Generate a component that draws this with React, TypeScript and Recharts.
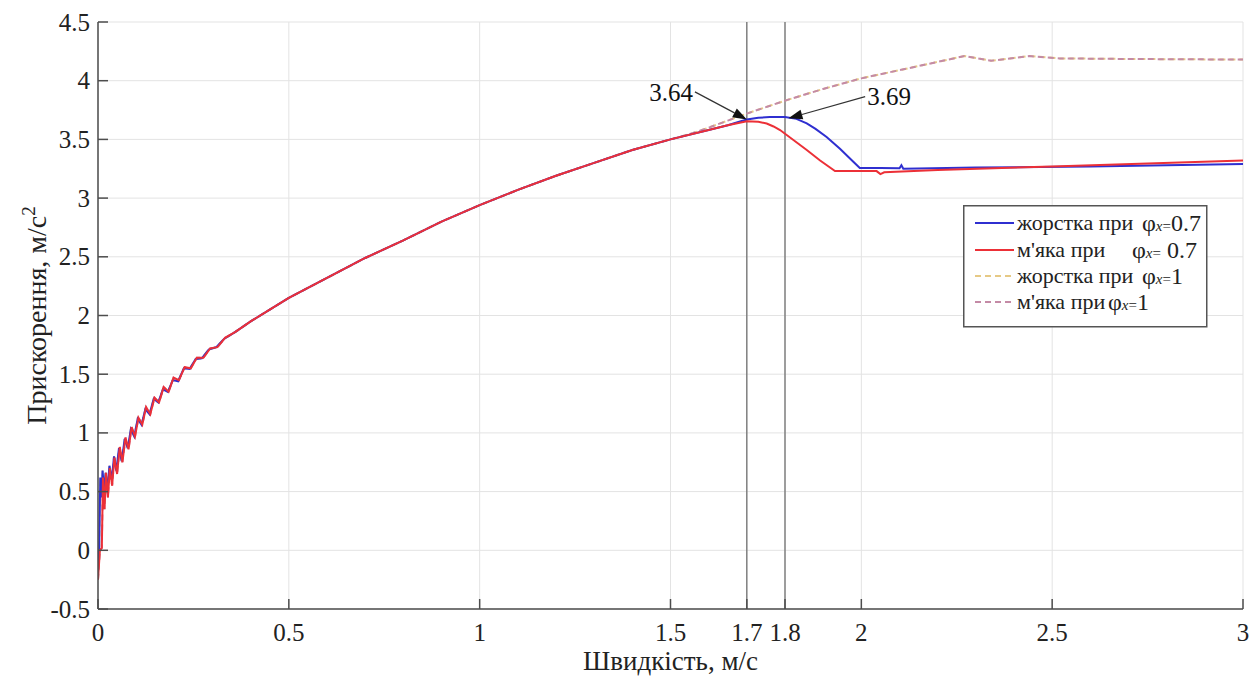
import {
  LineChart,
  Line,
  XAxis,
  YAxis,
  CartesianGrid,
  ReferenceLine,
  Legend,
} from "recharts";

// speed (m/s) -> acceleration (m/s^2)
const hard07: [number, number][] = [
  [0, -0.18], [0.003, 0.0], [0.006, 0.62], [0.009, 0.45], [0.012, 0.68], [0.016, 0.5],
  [0.02, 0.66], [0.025, 0.52], [0.03, 0.72], [0.036, 0.6], [0.042, 0.8], [0.048, 0.68],
  [0.055, 0.87], [0.062, 0.76], [0.07, 0.95], [0.078, 0.87], [0.086, 1.03], [0.095, 0.97],
  [0.104, 1.12], [0.114, 1.07], [0.124, 1.2], [0.135, 1.16], [0.146, 1.29], [0.158, 1.26],
  [0.17, 1.37], [0.183, 1.35], [0.196, 1.45], [0.21, 1.44], [0.225, 1.55], [0.24, 1.545],
  [0.256, 1.63], [0.272, 1.635], [0.29, 1.71], [0.31, 1.73], [0.33, 1.8], [0.36, 1.86],
  [0.4, 1.95], [0.45, 2.05], [0.5, 2.15], [0.6, 2.32], [0.7, 2.49], [0.8, 2.64], [0.9, 2.8],
  [1.0, 2.94], [1.1, 3.07], [1.2, 3.19], [1.3, 3.3], [1.4, 3.41], [1.5, 3.5], [1.6, 3.58],
  [1.65, 3.62], [1.68, 3.65], [1.7, 3.67], [1.73, 3.685], [1.76, 3.69], [1.8, 3.69],
  [1.83, 3.675], [1.857, 3.637], [1.88, 3.59], [1.909, 3.52], [1.944, 3.42], [1.979, 3.31],
  [1.996, 3.256], [2.05, 3.256], [2.1, 3.254], [2.105, 3.28], [2.11, 3.25], [2.3, 3.26],
  [2.6, 3.27], [3.0, 3.29],
];

const soft07: [number, number][] = [
  [0, -0.25], [0.005, 0.0], [0.01, 0.02], [0.013, 0.62], [0.017, 0.35], [0.021, 0.66],
  [0.026, 0.45], [0.031, 0.7], [0.037, 0.55], [0.043, 0.79], [0.05, 0.65], [0.057, 0.88],
  [0.064, 0.75], [0.072, 0.96], [0.08, 0.86], [0.088, 1.05], [0.097, 0.97], [0.106, 1.13],
  [0.116, 1.07], [0.126, 1.22], [0.137, 1.16], [0.148, 1.3], [0.16, 1.26], [0.172, 1.39],
  [0.185, 1.35], [0.198, 1.47], [0.212, 1.45], [0.227, 1.56], [0.243, 1.55], [0.259, 1.64],
  [0.276, 1.64], [0.294, 1.72], [0.313, 1.73], [0.333, 1.81], [0.36, 1.86], [0.4, 1.95],
  [0.45, 2.05], [0.5, 2.15], [0.6, 2.32], [0.7, 2.49], [0.8, 2.64], [0.9, 2.8], [1.0, 2.94],
  [1.1, 3.07], [1.2, 3.19], [1.3, 3.3], [1.4, 3.41], [1.5, 3.5], [1.6, 3.58], [1.65, 3.62],
  [1.7, 3.655], [1.73, 3.65], [1.752, 3.635], [1.77, 3.61], [1.787, 3.58], [1.822, 3.495],
  [1.857, 3.41], [1.892, 3.32], [1.931, 3.23], [2.04, 3.23], [2.05, 3.205], [2.06, 3.22],
  [2.2, 3.24], [2.5, 3.27], [3.0, 3.32],
];

// φx = 1 curves coincide with the φx = 0.7 ones until they part near 1.55 m/s
const hard1: [number, number][] = [
  [0, -0.18], [0.003, 0.0], [0.006, 0.62], [0.009, 0.45], [0.012, 0.68], [0.016, 0.5],
  [0.02, 0.66], [0.025, 0.52], [0.03, 0.72], [0.036, 0.6], [0.042, 0.8], [0.048, 0.68],
  [0.055, 0.87], [0.062, 0.76], [0.07, 0.95], [0.078, 0.87], [0.086, 1.03], [0.095, 0.97],
  [0.104, 1.12], [0.114, 1.07], [0.124, 1.2], [0.135, 1.16], [0.146, 1.29], [0.158, 1.26],
  [0.17, 1.37], [0.183, 1.35], [0.196, 1.45], [0.21, 1.44], [0.225, 1.55], [0.24, 1.545],
  [0.256, 1.63], [0.272, 1.635], [0.29, 1.71], [0.31, 1.73], [0.33, 1.8], [0.36, 1.86],
  [0.4, 1.95], [0.45, 2.05], [0.5, 2.15], [0.6, 2.32], [0.7, 2.49], [0.8, 2.64], [0.9, 2.8],
  [1.0, 2.94], [1.1, 3.07], [1.2, 3.19], [1.3, 3.3], [1.4, 3.41], [1.5, 3.5], [1.55, 3.545],
  [1.6, 3.6], [1.65, 3.66], [1.7, 3.72], [1.8, 3.83], [1.9, 3.93], [2.0, 4.02], [2.1, 4.09],
  [2.2, 4.16], [2.27, 4.21], [2.34, 4.17], [2.44, 4.21], [2.52, 4.19], [2.7, 4.185],
  [3.0, 4.18],
];

const soft1: [number, number][] = [
  [0, -0.25], [0.005, 0.0], [0.01, 0.02], [0.013, 0.62], [0.017, 0.35], [0.021, 0.66],
  [0.026, 0.45], [0.031, 0.7], [0.037, 0.55], [0.043, 0.79], [0.05, 0.65], [0.057, 0.88],
  [0.064, 0.75], [0.072, 0.96], [0.08, 0.86], [0.088, 1.05], [0.097, 0.97], [0.106, 1.13],
  [0.116, 1.07], [0.126, 1.22], [0.137, 1.16], [0.148, 1.3], [0.16, 1.26], [0.172, 1.39],
  [0.185, 1.35], [0.198, 1.47], [0.212, 1.45], [0.227, 1.56], [0.243, 1.55], [0.259, 1.64],
  [0.276, 1.64], [0.294, 1.72], [0.313, 1.73], [0.333, 1.81], [0.36, 1.86], [0.4, 1.95],
  [0.45, 2.05], [0.5, 2.15], [0.6, 2.32], [0.7, 2.49], [0.8, 2.64], [0.9, 2.8], [1.0, 2.94],
  [1.1, 3.07], [1.2, 3.19], [1.3, 3.3], [1.4, 3.41], [1.5, 3.5], [1.55, 3.545], [1.6, 3.6],
  [1.65, 3.66], [1.7, 3.72], [1.8, 3.83], [1.9, 3.93], [2.0, 4.02], [2.1, 4.09], [2.2, 4.16],
  [2.27, 4.21], [2.34, 4.17], [2.44, 4.21], [2.52, 4.19], [2.7, 4.185], [3.0, 4.18],
];

const xTicks = [0, 0.5, 1, 1.5, 1.7, 1.8, 2, 2.5, 3];
const yTicks = [-0.5, 0, 0.5, 1, 1.5, 2, 2.5, 3, 3.5, 4, 4.5];
const markerSpeeds = [1.7, 1.8];

// annotation arrows: tail point, head point, label
const peakNotes: { from: [number, number]; to: [number, number]; text: string }[] = [
  { from: [1.564, 3.905], to: [1.7, 3.67], text: "3.64" },
  { from: [2.01, 3.865], to: [1.809, 3.68], text: "3.69" },
];

const legendRows = [
  { name: "жорстка при", phi: "0.7" },
  { name: "м'яка при", phi: " 0.7" },
  { name: "жорстка при", phi: "1" },
  { name: "м'яка при", phi: "1" },
];

const FONT = "'Liberation Serif', 'Times New Roman', serif";
const BLUE = "#2f2fd0";
const RED = "#ec3037";
const YELLOW = "#e6c985";
const PURPLE = "#c48aa6";
const AXIS = "#4d4d4d";
const serif = { fontFamily: FONT };

const rows = (pts: [number, number][]) => pts.map(([x, y]) => ({ x, y }));

function XTick({ x, y, payload }: any) {
  return (
    <g>
      <line x1={x} x2={x} y1={y} y2={y - 10} stroke={AXIS} strokeWidth={1.5} />
      <text x={x} y={y + 32} textAnchor="middle" fontSize={25} fill="#222" style={serif}>
        {payload.value}
      </text>
    </g>
  );
}

function YTick({ x, y, payload }: any) {
  return (
    <g>
      <line x1={x} x2={x + 10} y1={y} y2={y} stroke={AXIS} strokeWidth={1.5} />
      <text x={x - 8} y={y} dy="0.34em" textAnchor="end" fontSize={25} fill="#222" style={serif}>
        {payload.value}
      </text>
    </g>
  );
}

function makeArrow(text: string, side: "left" | "right") {
  return (p: any) => {
    const { x1, y1, x2, y2 } = p;
    const a = Math.atan2(y2 - y1, x2 - x1);
    const len = 14;
    const w = 5;
    const bx = x2 - len * Math.cos(a);
    const by = y2 - len * Math.sin(a);
    const pts = [
      `${x2},${y2}`,
      `${bx + w * Math.sin(a)},${by - w * Math.cos(a)}`,
      `${bx - w * Math.sin(a)},${by + w * Math.cos(a)}`,
    ].join(" ");
    return (
      <g>
        <line x1={x1} y1={y1} x2={bx} y2={by} stroke="#333" strokeWidth={1.2} />
        <polygon points={pts} fill="#111" />
        <text
          x={side === "left" ? x1 - 2 : x1 + 2}
          y={y1}
          dy="0.35em"
          textAnchor={side === "left" ? "end" : "start"}
          fontSize={25}
          fill="#111"
          style={serif}
        >
          {text}
        </text>
      </g>
    );
  };
}

const legendColors = [BLUE, RED, YELLOW, PURPLE];
const legendDash = [undefined, undefined, "6 4", "6 4"];
const legendPhiX = [179, 169, 179, 145];
const legendRowY = [18, 45, 71, 97];

function LegendBox() {
  return (
    <svg width={245} height={123} style={{ display: "block", fontFamily: FONT }}>
      <rect x={0.75} y={0.75} width={243} height={121} fill="#fff" stroke="#555" strokeWidth={1.5} />
      {legendRows.map((r, i) => (
        <g key={i} fill="#222">
          <line
            x1={12}
            x2={51}
            y1={legendRowY[i]}
            y2={legendRowY[i]}
            stroke={legendColors[i]}
            strokeWidth={2}
            strokeDasharray={legendDash[i]}
          />
          <text x={54} y={legendRowY[i]} dy="0.32em" fontSize={22} style={serif}>
            {r.name}
          </text>
          <text x={legendPhiX[i]} y={legendRowY[i]} dy="0.32em" fontSize={24} style={serif}>
            φ
            <tspan fontSize={15} fontStyle="italic">x</tspan>
            <tspan fontSize={15}>=</tspan>
            {r.phi}
          </text>
        </g>
      ))}
    </svg>
  );
}

export default function App() {
  return (
    <div
      style={{ position: "absolute", left: 0, top: 0, width: 1252, height: 677, background: "#fff", fontFamily: FONT }}
    >
      <LineChart
        width={1252}
        height={677}
        margin={{ top: 22, right: 9, left: 0, bottom: 0 }}
        style={{ fontFamily: FONT }}
      >
        <CartesianGrid stroke="#e3e3e3" strokeWidth={1} />
        <XAxis
          dataKey="x"
          type="number"
          domain={[0, 3]}
          ticks={xTicks}
          allowDataOverflow
          height={68}
          stroke={AXIS}
          strokeWidth={1.5}
          tickSize={0}
          tickMargin={0}
          tickLine={false}
          tick={<XTick />}
          interval={0}
          label={{
            content: (p: any) => {
              const vb = p.viewBox || { x: 98, width: 1145 };
              return (
                <text x={vb.x + vb.width / 2} y={670} textAnchor="middle" fontSize={27} fill="#222" style={serif}>
                  Швидкість, м/с
                </text>
              );
            },
          }}
        />
        <YAxis
          type="number"
          domain={[-0.5, 4.5]}
          ticks={yTicks}
          allowDataOverflow
          width={98}
          stroke={AXIS}
          strokeWidth={1.5}
          tickSize={0}
          tickMargin={0}
          tickLine={false}
          tick={<YTick />}
          interval={0}
          label={{
            content: (p: any) => {
              const vb = p.viewBox || { y: 22, height: 587 };
              const cy = vb.y + vb.height / 2;
              return (
                <text
                  x={36}
                  y={cy}
                  transform={`rotate(-90, 36, ${cy})`}
                  textAnchor="middle"
                  dy="0.35em"
                  fontSize={28}
                  fill="#222"
                  style={serif}
                >
                  Прискорення, м/с
                  <tspan dy={-11} fontSize={19}>2</tspan>
                </text>
              );
            },
          }}
        />
        {markerSpeeds.map((s) => (
          <ReferenceLine key={s} x={s} stroke="#666" strokeWidth={1.2} />
        ))}
        <Line
          data={rows(hard1)}
          dataKey="y"
          name="жорстка при φx=1"
          type="linear"
          stroke={YELLOW}
          strokeWidth={2}
          strokeDasharray="6 4"
          strokeDashoffset={5}
          dot={false}
          isAnimationActive={false}
        />
        <Line
          data={rows(soft1)}
          dataKey="y"
          name="м'яка при φx=1"
          type="linear"
          stroke={PURPLE}
          strokeWidth={2}
          strokeDasharray="6 4"
          dot={false}
          isAnimationActive={false}
        />
        <Line
          data={rows(hard07)}
          dataKey="y"
          name="жорстка при φx=0.7"
          type="linear"
          stroke={BLUE}
          strokeWidth={2}
          dot={false}
          isAnimationActive={false}
        />
        <Line
          data={rows(soft07)}
          dataKey="y"
          name="м'яка при φx=0.7"
          type="linear"
          stroke={RED}
          strokeWidth={2}
          dot={false}
          isAnimationActive={false}
        />
        {peakNotes.map((n, i) => (
          <ReferenceLine
            key={n.text}
            segment={[
              { x: n.from[0], y: n.from[1] },
              { x: n.to[0], y: n.to[1] },
            ]}
            ifOverflow="visible"
            shape={makeArrow(n.text, i === 0 ? "left" : "right")}
          />
        ))}
        <Legend
          layout="horizontal"
          verticalAlign="middle"
          align="center"
          wrapperStyle={{ position: "absolute", left: 963, top: 205, width: 245, height: 123 }}
          content={() => <LegendBox />}
        />
      </LineChart>
    </div>
  );
}
